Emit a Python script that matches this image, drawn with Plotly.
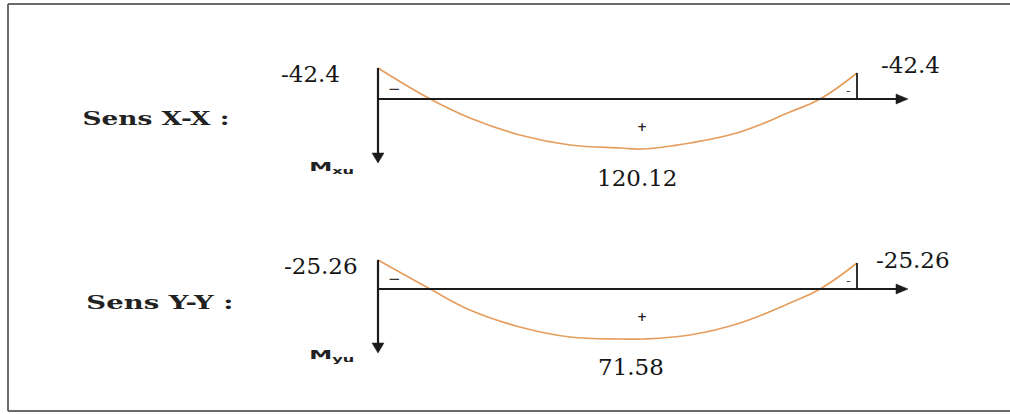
import plotly.graph_objects as go

# ---------------- data ----------------
directions = ["Sens X-X :", "Sens Y-Y :"]
moment_names = ["M<sub>xu</sub>", "M<sub>yu</sub>"]
support_moments = ["-42.4", "-25.26"]       # moments on supports (kN.m)
span_moments = ["120.12", "71.58"]           # mid-span moments (kN.m)

# sketch of the moment curve: position along the span (0..1) and drawn ordinate
span_pos = [0.0, 0.109, 0.192, 0.296, 0.401, 0.505, 0.553, 0.651, 0.756, 0.86, 0.923, 1.0]
curve_xx = [-31, 0, 19, 36, 46, 49, 50, 44, 33, 13, 0, -26]
curve_yy = [-29, 0, 21, 38, 48, 50, 50, 46, 34, 14, 0, -26]
curves = [curve_xx, curve_yy]

# ---------------- layout constants ----------------
W, H = 1010, 414
X0, X1 = 378, 857          # supports
XTIP = 908                 # axis arrow tip
BASE = [99, 289]           # baselines of the two diagrams
VTIP = [163, 353]          # vertical arrow tips
AX_COL = "#1b1b1b"
CURVE_COL = "#E59E5E"
NUM_FONT = dict(family="DejaVu Serif", size=23, color="#161616")

fig = go.Figure()
shapes = []
annots = []

def sx(s):
    return X0 + s * (X1 - X0)

for i in range(2):
    b = BASE[i]
    c = curves[i]
    xs = [sx(s) for s in span_pos]
    ys = [b + v for v in c]
    fig.add_trace(go.Scatter(x=xs, y=ys, mode="lines",
                             line=dict(color=CURVE_COL, width=1.7, shape="spline", smoothing=1.2),
                             hoverinfo="skip", showlegend=False))
    ytop_l = ys[0]
    ytop_r = ys[-1]
    # horizontal axis
    shapes.append(dict(type="line", x0=X0, x1=XTIP - 8, y0=b, y1=b, line=dict(color=AX_COL, width=2.2)))
    shapes.append(dict(type="path", path=f"M {XTIP-12} {b-5} L {XTIP} {b} L {XTIP-12} {b+5} Z",
                       fillcolor=AX_COL, line=dict(color=AX_COL, width=0.5)))
    # left vertical axis with arrow
    vt = VTIP[i]
    shapes.append(dict(type="line", x0=X0, x1=X0, y0=ytop_l, y1=vt - 6, line=dict(color=AX_COL, width=2.2)))
    shapes.append(dict(type="path", path=f"M {X0-6} {vt-10} L {X0} {vt} L {X0+6} {vt-10} Z",
                       fillcolor=AX_COL, line=dict(color=AX_COL, width=0.5)))
    # right post
    shapes.append(dict(type="line", x0=X1, x1=X1, y0=ytop_r, y1=b, line=dict(color=AX_COL, width=1.8)))

    # labels
    annots.append(dict(x=310 if i == 0 else 321, y=b - 25 if i == 0 else b - 23, text=support_moments[i], font=NUM_FONT))
    annots.append(dict(x=910 if i == 0 else 913, y=b - 34 if i == 0 else b - 29, text=support_moments[i], font=NUM_FONT))
    annots.append(dict(x=637 if i == 0 else 631, y=b + 79 if i == 0 else b + 78, text=span_moments[i], font=NUM_FONT))
    annots.append(dict(x=156 if i == 0 else 160, y=b + 19 if i == 0 else b + 13, text=f"<b>{directions[i]}</b>",
                       font=dict(family="DejaVu Serif", size=19, color="#222")))
    annots.append(dict(x=331, y=b + 68 if i == 0 else b + 66, text=f"<b>{moment_names[i]}</b>",
                       font=dict(family="DejaVu Sans", size=13, color="#222")))
    # signs
    annots.append(dict(x=394, y=b - 10, text="−", font=dict(family="DejaVu Sans", size=15, color="#333")))
    annots.append(dict(x=848, y=b - 9, text="-", font=dict(family="DejaVu Sans", size=13, color="#444")))
    annots.append(dict(x=642, y=b + 28, text="<b>+</b>", font=dict(family="DejaVu Sans", size=12, color="#222")))

# outer frame (left, top, bottom edges; the right edge lies outside the picture)
FR = dict(color="#6a6a6a", width=2)
shapes.append(dict(type="line", x0=8, x1=8, y0=4, y1=411, line=FR))
shapes.append(dict(type="line", x0=8, x1=W, y0=4, y1=4, line=FR))
shapes.append(dict(type="line", x0=8, x1=W, y0=411, y1=411, line=FR))

for a in annots:
    a.update(xref="x", yref="y", showarrow=False, xanchor="center", yanchor="middle")

fig.update_layout(
    width=W, height=H,
    margin=dict(l=0, r=0, t=0, b=0),
    paper_bgcolor="white", plot_bgcolor="white",
    xaxis=dict(range=[0, W], visible=False, fixedrange=True),
    yaxis=dict(range=[H, 0], visible=False, fixedrange=True),
    shapes=shapes, annotations=annots, showlegend=False,
)

post = """
document.body.style.margin='0';document.body.style.overflow='hidden';
document.querySelectorAll('text.annotation-text').forEach(function(t){
  var s=t.textContent, L=null;
  if(s.indexOf('Sens')===0){L=147;}
  else if(s.indexOf('M')===0){L=45;}
  if(L){t.setAttribute('textLength',L);t.setAttribute('lengthAdjust','spacingAndGlyphs');}
});
"""

fig.write_html("out.html", config={"displayModeBar": False}, post_script=post)
